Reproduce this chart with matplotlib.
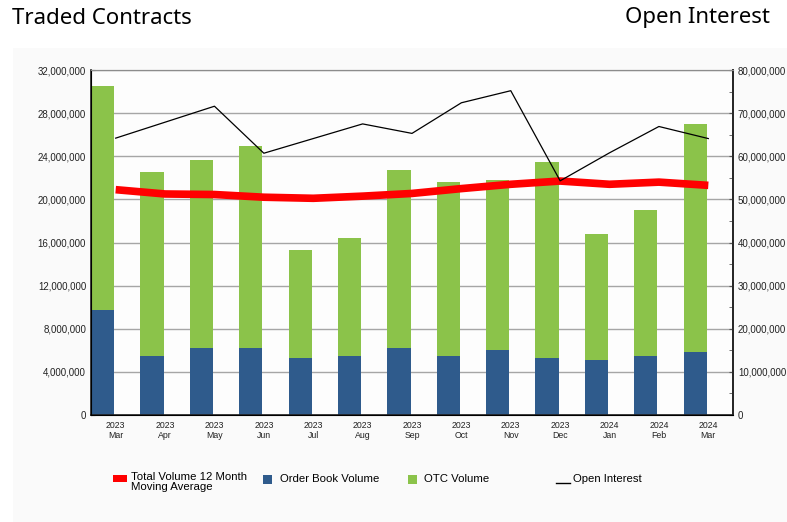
import numpy as np
import matplotlib.pyplot as plt
from matplotlib.ticker import FuncFormatter, MultipleLocator
from matplotlib.patches import Rectangle
from matplotlib.lines import Line2D

# monthly data, Mar 2023 - Mar 2024
years = ['2023'] * 10 + ['2024'] * 3
months = ['Mar', 'Apr', 'May', 'Jun', 'Jul', 'Aug', 'Sep', 'Oct', 'Nov', 'Dec', 'Jan', 'Feb', 'Mar']
order_book = [9.74, 5.47, 6.21, 6.21, 5.29, 5.47, 6.21, 5.47, 6.03, 5.29, 5.10, 5.47, 5.84]   # millions
total_vol = [30.5, 22.55, 23.65, 24.95, 15.3, 16.4, 22.7, 21.6, 21.8, 23.47, 16.8, 19.0, 27.0]  # millions
otc = [t - o for t, o in zip(total_vol, order_book)]
moving_avg = [20.9, 20.5, 20.45, 20.2, 20.1, 20.3, 20.55, 21.0, 21.4, 21.7, 21.4, 21.6, 21.3]  # millions
open_interest = [64.2, 67.9, 71.6, 60.7, 64.1, 67.5, 65.3, 72.4, 75.2, 54.3, 60.8, 66.9, 64.1]  # millions

blue = '#2f5b8c'
green = '#8bc34a'

plt.rcParams['font.family'] = ['Liberation Sans', 'DejaVu Sans']

fig = plt.figure(figsize=(7.87, 5.22), dpi=100)
fig.patch.set_facecolor('white')

# light grey panel behind the chart
bg = fig.add_axes([13 / 787, 0, 1 - 13 / 787, 1 - 48 / 522])
bg.set_facecolor('#fafafa')
bg.set_xticks([])
bg.set_yticks([])
for s in bg.spines.values():
    s.set_visible(False)

ax = fig.add_axes([91 / 787, 1 - 415 / 522, 642 / 787, 345 / 522])
ax.set_facecolor('#fdfdfd')
x = np.arange(len(months))
ob = np.array(order_book) * 1e6
ot = np.array(otc) * 1e6
ax.bar(x - 0.5, ob, width=0.47, align='edge', color=blue, zorder=2)
ax.bar(x - 0.5, ot, width=0.47, align='edge', bottom=ob, color=green, zorder=2)
ax.plot(x, np.array(moving_avg) * 1e6, color='#ff0000', linewidth=5.5, zorder=3, solid_capstyle='butt')

ax.set_xlim(-0.5, 12.5)
ax.set_ylim(0, 32e6)
ax.yaxis.set_major_locator(MultipleLocator(4e6))
ax.yaxis.set_minor_locator(MultipleLocator(2e6))
ax.yaxis.set_major_formatter(FuncFormatter(lambda v, p: f'{v:,.0f}'))
ax.grid(axis='y', color='#a6a6a6', linewidth=1, zorder=1)
ax.set_axisbelow(True)
ax.set_xticks(x)
ax.set_xticklabels([f'{y}\n{m}' for y, m in zip(years, months)], fontsize=6.3, color='#222222')
ax.tick_params(axis='x', length=0, pad=4)
ax.tick_params(axis='y', which='both', direction='in', length=3, labelsize=7, color='#555555', labelcolor='#222222')
for s in ['left', 'bottom', 'right']:
    ax.spines[s].set_color('#222222')
    ax.spines[s].set_linewidth(1.2)
ax.spines['top'].set_color('#8c8c8c')

ax2 = ax.twinx()
ax2.plot(x, np.array(open_interest) * 1e6, color='black', linewidth=0.9, zorder=4)
ax2.set_ylim(0, 80e6)
ax2.yaxis.set_major_locator(MultipleLocator(10e6))
ax2.yaxis.set_minor_locator(MultipleLocator(5e6))
ax2.yaxis.set_major_formatter(FuncFormatter(lambda v, p: f'{v:,.0f}'))
ax2.tick_params(axis='y', which='both', direction='in', length=3, labelsize=7, color='#555555', labelcolor='#222222')
ax2.spines['right'].set_color('#222222')
ax2.spines['right'].set_linewidth(1.2)
ax2.spines['top'].set_color('#8c8c8c')

fig.text(12 / 787, 1 - 18 / 522, 'Traded Contracts', fontsize=16, family='Noto Sans', va='center', ha='left')
fig.text(770 / 787, 1 - 18 / 522, 'Open Interest', fontsize=16, family='Noto Sans', va='center', ha='right')

# legend drawn manually at the bottom
ly = 1 - 479 / 522
fig.patches.append(Rectangle((113 / 787, 1 - 482 / 522), 14 / 787, 7 / 522, transform=fig.transFigure,
                             facecolor='#ff0000', edgecolor='none'))
fig.text(131 / 787, 1 - 482 / 522, 'Total Volume 12 Month\nMoving Average', fontsize=8.2, va='center',
         linespacing=1.05)
fig.patches.append(Rectangle((263 / 787, 1 - 484 / 522), 9 / 787, 9 / 522, transform=fig.transFigure,
                             facecolor=blue, edgecolor='none'))
fig.text(280 / 787, ly, 'Order Book Volume', fontsize=8.2, va='center')
fig.patches.append(Rectangle((408 / 787, 1 - 484 / 522), 9 / 787, 9 / 522, transform=fig.transFigure,
                             facecolor=green, edgecolor='none'))
fig.text(424 / 787, ly, 'OTC Volume', fontsize=8.2, va='center')
fig.lines.append(Line2D([556 / 787, 570 / 787], [1 - 483 / 522, 1 - 483 / 522], transform=fig.transFigure,
                        color='black', linewidth=1))
fig.text(573 / 787, ly, 'Open Interest', fontsize=8.2, va='center')

plt.savefig('out.png', dpi=100)
